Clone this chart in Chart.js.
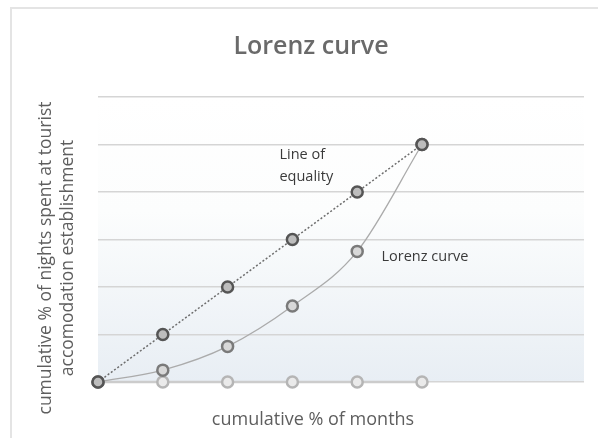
<!DOCTYPE html>
<html>
<head>
<meta charset="utf-8">
<script src="https://cdn.jsdelivr.net/npm/chart.js@4.4.1/dist/chart.umd.min.js"></script>
<style>
  html, body { margin: 0; padding: 0; background: #fff; }
  #wrap { position: relative; width: 598px; height: 438px; overflow: hidden; }
  #frame { position: absolute; left: 10px; top: 7px; width: 620px; height: 460px;
           border-top: 2px solid #e4e4e4; border-left: 2px solid #e4e4e4; }
  canvas { position: absolute; left: 0; top: 0; }
</style>
</head>
<body>
<div id="wrap">
  <div id="frame"></div>
  <canvas id="lorenz" width="598" height="438"></canvas>
</div>
<script>
// data (percent)
const months   = [0, 20, 40, 60, 80, 100];
const equality = [0, 20, 40, 60, 80, 100];
const lorenz   = [0, 5, 15, 32, 55, 100];
const baseline = [0, 0, 0, 0, 0, 0];

const X_MAX = 150;
const Y_MAX = 120;
const Y_STEP = 20;

const FONT = '"Open Sans", "DejaVu Sans", sans-serif';

// little text labels next to the lines, placed in data units
const notes = [
  { text: 'Line of',      x: 56, y: 95.5 },
  { text: 'equality',     x: 56, y: 86.5 },
  { text: 'Lorenz curve', x: 87.5, y: 52.5 }
];

const pts = (ys) => months.map((m, i) => ({ x: m, y: ys[i] }));

// soft fill behind the plot area, white at top, pale blue at the bottom
const plotBg = {
  id: 'plotBg',
  beforeDraw(chart) {
    const { ctx, chartArea: a } = chart;
    const g = ctx.createLinearGradient(0, a.top, 0, a.bottom);
    g.addColorStop(0, '#ffffff');
    g.addColorStop(0.4, '#fcfdfd');
    g.addColorStop(1, '#e8eef4');
    ctx.save();
    ctx.fillStyle = g;
    ctx.fillRect(a.left, a.top, a.right - a.left, a.bottom - a.top);
    ctx.restore();
  }
};

// axis titles + line labels
const texts = {
  id: 'texts',
  afterDraw(chart) {
    const { ctx, scales: { x, y } } = chart;
    ctx.save();
    ctx.fillStyle = '#3a3a3a';
    ctx.font = '14.5px ' + FONT;
    ctx.textBaseline = 'middle';
    ctx.textAlign = 'left';
    notes.forEach(n => ctx.fillText(n.text, x.getPixelForValue(n.x), y.getPixelForValue(n.y)));

    ctx.fillStyle = '#5e5e5e';
    ctx.textAlign = 'center';
    ctx.font = '18px ' + FONT;
    ctx.fillText('cumulative % of months', 313, 420);

    ctx.translate(0, 258);
    ctx.rotate(-Math.PI / 2);
    ctx.font = '17.5px ' + FONT;
    ctx.fillText('cumulative % of nights spent at tourist', 0, 46);
    ctx.fillText('accomodation establishment', 0, 68);
    ctx.restore();
  }
};

new Chart(document.getElementById('lorenz'), {
  type: 'line',
  data: {
    datasets: [{
      label: 'Line of equality',
      data: pts(equality),
      borderColor: '#6e6e6e',
      borderWidth: 1.5,
      borderDash: [2, 2],
      pointRadius: 5.5,
      pointBorderWidth: 2.5,
      pointBorderColor: '#555555',
      pointBackgroundColor: '#bdbdbd',
      clip: false,
      order: 1
    }, {
      label: 'Lorenz curve',
      data: pts(lorenz),
      borderColor: '#ababab',
      borderWidth: 1.3,
      cubicInterpolationMode: 'monotone',
      pointRadius: 5.5,
      pointBorderWidth: 2.5,
      pointBorderColor: '#7a7a7a',
      pointBackgroundColor: '#d8d8d8',
      clip: false,
      order: 2
    }, {
      label: 'baseline',
      data: pts(baseline),
      borderColor: '#cccccc',
      borderWidth: 2.5,
      pointRadius: 5.5,
      pointBorderWidth: 2.5,
      pointBorderColor: '#b5b5b5',
      pointBackgroundColor: '#eaeaea',
      clip: false,
      order: 3
    }]
  },
  options: {
    responsive: false,
    animation: false,
    layout: { padding: { left: 38, right: 14, top: 0, bottom: 0 } },
    plugins: {
      legend: { display: false },
      tooltip: { enabled: false },
      title: {
        display: true,
        text: 'Lorenz curve',
        color: '#6a6a6a',
        font: { family: FONT, size: 25, weight: '600' },
        padding: { top: 32, bottom: 35 }
      }
    },
    scales: {
      x: {
        type: 'linear',
        min: 0, max: X_MAX,
        grid: { display: false },
        border: { display: false },
        ticks: { display: false },
        afterFit(s) { s.height = 56; }
      },
      y: {
        min: 0, max: Y_MAX,
        ticks: { display: false, stepSize: Y_STEP },
        grid: { color: '#d5d5d5', lineWidth: 1.5, drawTicks: false },
        border: { display: false },
        afterFit(s) { s.width = 60; }
      }
    }
  },
  plugins: [plotBg, texts]
});
</script>
</body>
</html>
